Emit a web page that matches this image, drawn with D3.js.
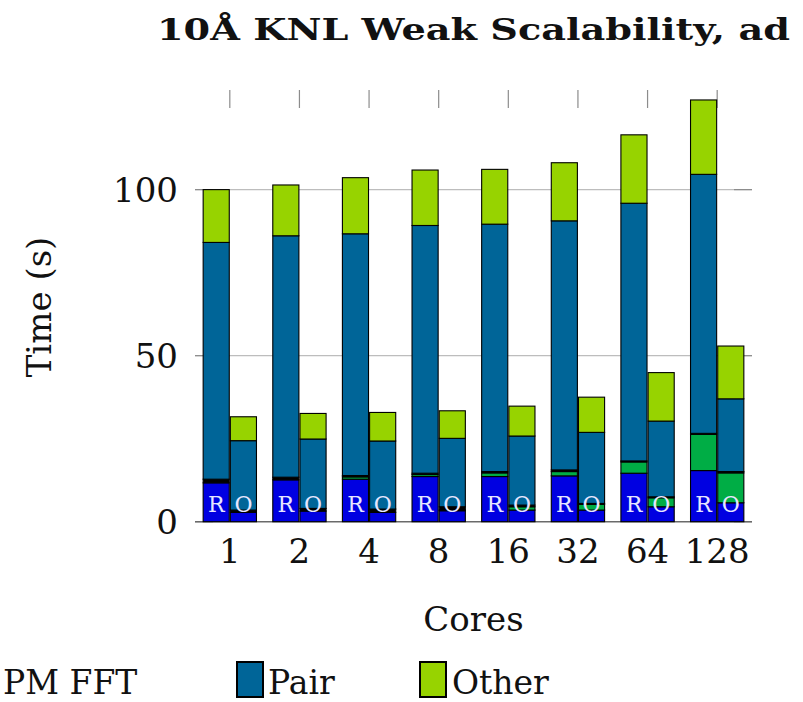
<!DOCTYPE html>
<html>
<head>
<meta charset="utf-8">
<script src="https://cdn.jsdelivr.net/npm/d3@7"></script>
<style>
  html, body { margin: 0; padding: 0; background: #fff; overflow: hidden; }
  svg { display: block; font-family: "DejaVu Serif", "Liberation Serif", serif; }
</style>
</head>
<body>
<svg id="chart" width="803" height="702"></svg>
<script>
// Core counts on the x axis and the two bar variants drawn per count
const cores = ["1", "2", "4", "8", "16", "32", "64", "128"];
const variants = ["R", "O"];

// Stacked segments (seconds), bottom to top, for the "R" bars
const blueR  = [11.7, 12.6, 12.8, 13.6, 13.6, 13.8, 14.6, 15.4];
const fftR   = [0.0, 0.0, 0.7, 0.6, 1.1, 1.3, 3.4, 10.9];
const blackR = [1.1, 0.8, 0.4, 0.4, 0.4, 0.5, 0.3, 0.3];
const pairR  = [71.3, 72.7, 72.8, 74.6, 74.5, 75.0, 77.6, 78.0];
const otherR = [15.9, 15.3, 16.9, 16.7, 16.5, 17.5, 20.6, 22.4];

// Stacked segments (seconds), bottom to top, for the "O" bars
const blueO  = [2.8, 3.2, 2.8, 3.3, 3.5, 3.5, 4.5, 5.7];
const fftO   = [0.0, 0.0, 0.0, 0.2, 1.0, 1.7, 2.7, 9.0];
const blackO = [0.7, 0.8, 1.0, 1.0, 0.5, 0.3, 0.3, 0.4];
const pairO  = [20.9, 20.9, 20.5, 20.6, 20.8, 21.4, 22.8, 21.9];
const otherO = [7.2, 7.7, 8.6, 8.3, 9.0, 10.6, 14.6, 15.9];

const yTicks = [0, 50, 100];
const legendLabels = ["PM FFT", "Pair", "Other"];

const layerKeys = ["blue", "fft", "black", "pair", "other"];
const layerColors = {
  blue: "#0000e1",
  fft: "#00ad45",
  black: "#000000",
  pair: "#006598",
  other: "#97d300"
};

// Build one row per (core count, variant)
const rows = [];
cores.forEach((c, i) => {
  rows.push({ core: c, variant: "R", blue: blueR[i], fft: fftR[i], black: blackR[i], pair: pairR[i], other: otherR[i] });
  rows.push({ core: c, variant: "O", blue: blueO[i], fft: fftO[i], black: blackO[i], pair: pairO[i], other: otherO[i] });
});

const svg = d3.select("#chart");
const plotLeft = 195, plotRight = 752, plotTop = 90, plotBottom = 521.7;

const x = d3.scaleBand().domain(cores).range([plotLeft, plotRight]).padding(0);
const xv = d3.scaleBand().domain(variants).range([0, x.bandwidth()])
  .paddingInner(0.04).paddingOuter(0.3);
const y = d3.scaleLinear().domain([0, 130]).range([plotBottom, plotTop]);

// Horizontal grid lines
svg.append("g").selectAll("line")
  .data(yTicks.filter(t => t > 0))
  .join("line")
  .attr("x1", plotLeft).attr("x2", plotRight)
  .attr("y1", d => y(d)).attr("y2", d => y(d))
  .attr("stroke", "#bdbdbd").attr("stroke-width", 1.2);

// Inward ticks on left and right
const tickLen = 18;
const tickG = svg.append("g").attr("stroke", "#8c8c8c").attr("stroke-width", 1.2);
tickG.selectAll("line.l").data(yTicks).join("line").attr("class", "l")
  .attr("x1", plotLeft).attr("x2", plotLeft + tickLen)
  .attr("y1", d => y(d)).attr("y2", d => y(d));
tickG.selectAll("line.r").data(yTicks).join("line").attr("class", "r")
  .attr("x1", plotRight - tickLen).attr("x2", plotRight)
  .attr("y1", d => y(d)).attr("y2", d => y(d));
// Top ticks at each core count
tickG.selectAll("line.t").data(cores).join("line").attr("class", "t")
  .attr("x1", d => x(d) + x.bandwidth() / 2).attr("x2", d => x(d) + x.bandwidth() / 2)
  .attr("y1", plotTop).attr("y2", plotTop + tickLen);

// Baseline
svg.append("line")
  .attr("x1", plotLeft).attr("x2", plotRight)
  .attr("y1", y(0)).attr("y2", y(0))
  .attr("stroke", "#6a6a6a").attr("stroke-width", 1.5);

// Stacked bars
const stack = d3.stack().keys(layerKeys);
const series = stack(rows);
const barG = svg.append("g");
series.forEach(s => {
  barG.append("g")
    .attr("fill", layerColors[s.key])
    .selectAll("rect")
    .data(s)
    .join("rect")
    .attr("x", d => x(d.data.core) + xv(d.data.variant))
    .attr("width", xv.bandwidth())
    .attr("y", d => y(d[1]))
    .attr("height", d => Math.max(0, y(d[0]) - y(d[1])))
    .attr("stroke", "#000")
    .attr("stroke-width", 1.1);
});

// Variant letters inside each bar
svg.append("g").selectAll("text")
  .data(rows)
  .join("text")
  .attr("x", d => x(d.core) + xv(d.variant) + xv.bandwidth() / 2)
  .attr("y", 512)
  .attr("text-anchor", "middle")
  .attr("font-size", 22)
  .attr("fill", "#e6e6ff")
  .text(d => d.variant);

// Y tick labels
svg.append("g").selectAll("text")
  .data(yTicks).join("text")
  .attr("x", 178).attr("y", d => y(d) + 12.5)
  .attr("text-anchor", "end")
  .attr("font-size", 34)
  .attr("fill", "#111")
  .text(d => d);

// X tick labels
svg.append("g").selectAll("text")
  .data(cores).join("text")
  .attr("x", d => x(d) + x.bandwidth() / 2).attr("y", 563)
  .attr("text-anchor", "middle")
  .attr("font-size", 34)
  .attr("fill", "#111")
  .text(d => d);

// Axis titles
svg.append("text")
  .attr("x", (plotLeft + plotRight) / 2).attr("y", 631)
  .attr("text-anchor", "middle")
  .attr("font-size", 34).attr("fill", "#111")
  .text("Cores");

svg.append("text")
  .attr("transform", "translate(51,307) rotate(-90)")
  .attr("text-anchor", "middle")
  .attr("font-size", 34).attr("fill", "#111")
  .text("Time (s)");

// Title
svg.append("text")
  .attr("x", 157).attr("y", 40)
  .attr("font-size", 30).attr("font-weight", "bold").attr("fill", "#111")
  .attr("textLength", 633).attr("lengthAdjust", "spacingAndGlyphs")
  .text("10Å KNL Weak Scalability, ad");

// Legend
const legendItems = [
  { label: legendLabels[0], key: "fft", box: -30, text: 3 },
  { label: legendLabels[1], key: "pair", box: 237, text: 268 },
  { label: legendLabels[2], key: "other", box: 420, text: 452 }
];
const lg = svg.append("g");
lg.selectAll("rect").data(legendItems).join("rect")
  .attr("x", d => d.box).attr("y", 662)
  .attr("width", 26).attr("height", 35)
  .attr("fill", d => layerColors[d.key])
  .attr("stroke", "#000").attr("stroke-width", 2);
lg.selectAll("text").data(legendItems).join("text")
  .attr("x", d => d.text).attr("y", 694)
  .attr("font-size", 33).attr("fill", "#111")
  .text(d => d.label);
</script>
</body>
</html>
